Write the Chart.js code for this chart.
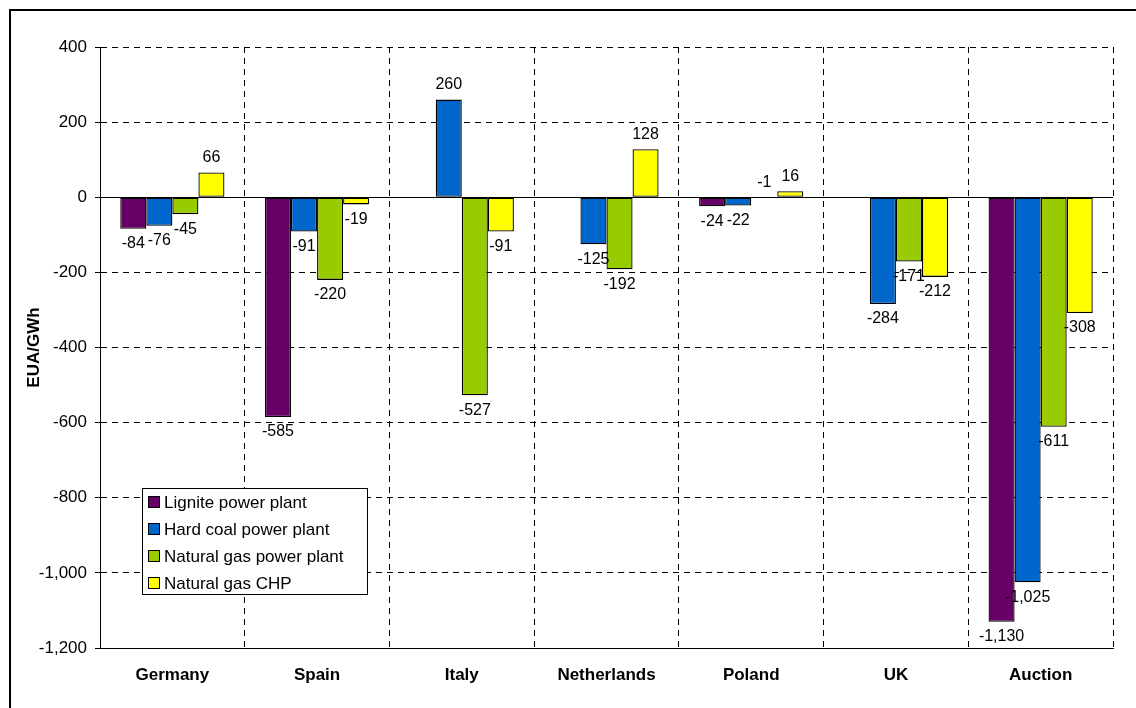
<!DOCTYPE html>
<html>
<head>
<meta charset="utf-8">
<script src="https://cdn.jsdelivr.net/npm/chart.js@4"></script>
<style>
html,body{margin:0;padding:0;background:#fff;}
#wrap{width:1136px;height:708px;position:relative;}
</style>
</head>
<body>
<div id="wrap"><canvas id="c" width="1136" height="708"></canvas></div>
<script>
const categories = ['Germany', 'Spain', 'Italy', 'Netherlands', 'Poland', 'UK', 'Auction'];
const seriesNames = ['Lignite power plant', 'Hard coal power plant', 'Natural gas power plant', 'Natural gas CHP'];
const lignite = [-84, -585, null, null, -24, null, -1130];
const hardCoal = [-76, -91, 260, -125, -22, -284, -1025];
const naturalGas = [-45, -220, -527, -192, -1, -171, -611];
const gasCHP = [66, -19, -91, 128, 16, -212, -308];
const yTicks = [400, 200, 0, -200, -400, -600, -800, -1000, -1200];
const colors = ['#660066', '#0066CC', '#99CC00', '#FFFF00'];

const FONT = "'Liberation Sans', Arial, sans-serif";
const fmt = v => Number(v).toLocaleString('en-US');

const frame = {
  id: 'frame',
  beforeDraw(chart) {
    const ctx = chart.ctx;
    ctx.save();
    ctx.fillStyle = '#fff';
    ctx.fillRect(0, 0, chart.width, chart.height);
    ctx.strokeStyle = '#000';
    ctx.lineWidth = 2;
    ctx.beginPath();
    ctx.moveTo(10, chart.height);
    ctx.lineTo(10, 10);
    ctx.lineTo(chart.width, 10);
    ctx.stroke();
    ctx.restore();
  },
  beforeDatasetsDraw(chart) {
    const ctx = chart.ctx;
    const y = Math.round(chart.scales.y.getPixelForValue(0)) + 0.5;
    const a = chart.chartArea;
    ctx.save();
    ctx.strokeStyle = '#000';
    ctx.lineWidth = 1;
    ctx.beginPath();
    ctx.moveTo(a.left, y);
    ctx.lineTo(a.right, y);
    ctx.stroke();
    ctx.restore();
  }
};

const labels = {
  id: 'valueLabels',
  afterDatasetsDraw(chart) {
    const ctx = chart.ctx;
    ctx.save();
    ctx.font = '16px ' + FONT;
    ctx.fillStyle = '#000';
    ctx.textAlign = 'center';
    ctx.textBaseline = 'middle';
    chart.data.datasets.forEach((ds, i) => {
      const meta = chart.getDatasetMeta(i);
      meta.data.forEach((el, j) => {
        const v = ds.data[j];
        if (v === null || v === undefined) return;
        const tiny = Math.abs(el.y - el.base) < 4;
        const y = (v >= 0 || tiny) ? el.y - 15 : el.y + 15;
        ctx.fillText(fmt(v), el.x, y);
      });
    });
    ctx.restore();
  }
};

const legendBox = {
  id: 'legendBox',
  afterDraw(chart) {
    const ctx = chart.ctx;
    ctx.save();
    ctx.fillStyle = '#fff';
    ctx.fillRect(142, 488, 225, 106);
    ctx.strokeStyle = '#000';
    ctx.lineWidth = 1;
    ctx.strokeRect(142.5, 488.5, 225, 106);
    ctx.font = '17px ' + FONT;
    ctx.textBaseline = 'middle';
    ctx.textAlign = 'left';
    chart.data.datasets.forEach((ds, i) => {
      const cy = 502 + i * 27;
      ctx.fillStyle = ds.backgroundColor;
      ctx.fillRect(148, cy - 6, 12, 12);
      ctx.strokeStyle = '#000';
      ctx.strokeRect(148.5, cy - 5.5, 11, 11);
      ctx.fillStyle = '#000';
      ctx.fillText(ds.label, 164, cy + 1);
    });
    ctx.restore();
  }
};

const dataSeries = [lignite, hardCoal, naturalGas, gasCHP];
new Chart(document.getElementById('c'), {
  type: 'bar',
  data: {
    labels: categories,
    datasets: dataSeries.map((d, i) => ({
      label: seriesNames[i],
      data: d,
      backgroundColor: colors[i],
      borderColor: '#000',
      borderWidth: 1.3,
      borderSkipped: false,
      categoryPercentage: 0.72,
      barPercentage: 1.0
    }))
  },
  options: {
    responsive: false,
    animation: false,
    devicePixelRatio: 1,
    layout: { padding: { left: 12, right: 23, top: 47, bottom: 10 } },
    plugins: { legend: { display: false }, tooltip: { enabled: false }, title: { display: false } },
    scales: {
      x: {
        grid: { display: true, offset: true, color: c => c.index === 0 ? 'rgba(0,0,0,0)' : '#000', lineWidth: 1, drawTicks: false },
        border: { display: true, color: '#000', width: 1, dash: [6, 5] },
        ticks: { color: '#000', font: { family: FONT, size: 17, weight: 'bold' }, padding: 17, maxRotation: 0 },
        afterFit(s) { s.height = 50; }
      },
      y: {
        min: -1200, max: 400,
        afterBuildTicks(s) { s.ticks = yTicks.map(v => ({ value: v })); },
        grid: { color: '#000', lineWidth: 1, drawTicks: true, tickLength: 5, tickColor: '#000', tickBorderDash: [] },
        border: { display: true, color: '#000', width: 1, dash: [6, 5] },
        ticks: { color: '#000', font: { family: FONT, size: 17 }, padding: 8, callback: v => fmt(v) },
        title: { display: true, text: 'EUA/GWh', color: '#000', font: { family: FONT, size: 17, weight: 'bold' }, padding: { top: 12, bottom: 0 } },
        afterFit(s) { s.width = 88; }
      }
    }
  },
  plugins: [frame, labels, legendBox]
});
</script>
</body>
</html>
